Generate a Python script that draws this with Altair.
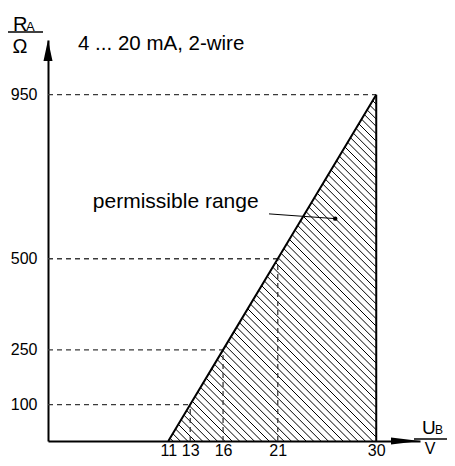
import altair as alt
import pandas as pd

# ---- data ----
ub_ticks = [11, 13, 16, 21, 30]          # U_B tick labels (V)
ra_ticks = [100, 250, 500, 950]          # R_A tick labels (Ohm)
line_ub = [11, 13, 16, 21, 30]           # load line U_B
line_ra = [0, 100, 250, 500, 950]        # load line R_A
guide_ub = [13, 16, 21]
guide_ra = [100, 250, 500]
top_ub = 30
top_ra = 950
label_pos = {"x": 4.1, "y": 640}
leader_ub = [20.2, 26.25]
leader_ra = [623, 610]

# ---- geometry of the plot ----
W, H = 372, 401
XMAX, YMAX = 34, 1100
sx, sy = W / XMAX, H / YMAX
SANS = "Liberation Sans, Arial, sans-serif"

xs = alt.Scale(domain=[0, XMAX], nice=False, zero=False)
ys = alt.Scale(domain=[0, YMAX], nice=False, zero=False)
xaxis = alt.Axis(values=ub_ticks, tickSize=0, grid=False, domainColor="black",
                 domainWidth=2, labelFont=SANS, labelFontSize=16, labelColor="black",
                 labelPadding=1, title=None, labelFlush=False, labelOverlap=False)
yaxis = alt.Axis(values=ra_ticks, tickSize=0, grid=False, domainColor="black",
                 domainWidth=2, labelFont=SANS, labelFontSize=16, labelColor="black",
                 labelPadding=11, title=None, labelOverlap=False)


def X(f):
    return alt.X(f, type="quantitative", scale=xs, axis=xaxis)


def Y(f):
    return alt.Y(f, type="quantitative", scale=ys, axis=yaxis)


# hatch segments (45 deg in screen space) clipped to the permissible triangle
ax_, bx_, by_ = line_ub[0] * sx, top_ub * sx, top_ra * sy
slope = by_ / (bx_ - ax_)
step = 7.4
rows = []
k = ax_ + step * 0.6
while k < bx_ + by_:
    x1 = (k + slope * ax_) / (1 + slope)
    y1 = slope * (x1 - ax_)
    if k <= bx_:
        x2, y2 = k, 0.0
    else:
        x2, y2 = bx_, k - bx_
    rows.append({"x": x1 / sx, "y": y1 / sy, "x2": x2 / sx, "y2": y2 / sy})
    k += step
hatch_df = pd.DataFrame(rows)

hatch = alt.Chart(hatch_df).mark_rule(color="black", strokeWidth=1).encode(
    x=X("x"), y=Y("y"), x2="x2", y2="y2")

line_df = pd.DataFrame({"ub": line_ub, "ra": line_ra})
load = alt.Chart(line_df).mark_line(color="black", strokeWidth=2).encode(
    x=X("ub"), y=Y("ra"))

right_df = pd.DataFrame({"ub": [top_ub], "ra": [top_ra], "ra0": [0]})
right = alt.Chart(right_df).mark_rule(color="black", strokeWidth=2).encode(
    x=X("ub"), y=Y("ra"), y2="ra0")

hg_df = pd.DataFrame({"x0": [0] * 4, "ub": [11 + r / 50 for r in guide_ra] + [top_ub],
                      "ra": guide_ra + [top_ra]})
hguides = alt.Chart(hg_df).mark_rule(color="#3a3a3a", strokeWidth=1.3, strokeDash=[5, 4]).encode(
    x=X("x0"), x2="ub", y=Y("ra"))

vg_df = pd.DataFrame({"ub": guide_ub, "ra": guide_ra, "y0": [0] * 3})
vguides = alt.Chart(vg_df).mark_rule(color="#3a3a3a", strokeWidth=1.3, strokeDash=[5, 4]).encode(
    x=X("ub"), y=Y("y0"), y2="ra")

yarrow = alt.Chart(pd.DataFrame({"x": [0], "y": [YMAX]})).mark_point(
    shape="M0,0L0.43,2L-0.43,2Z", size=441, filled=True, color="black", opacity=1).encode(
    x=X("x"), y=Y("y"))
xarrow = alt.Chart(pd.DataFrame({"x": [XMAX], "y": [0]})).mark_point(
    shape="M0,0L-2,-0.24L-2,0.24Z", size=841, filled=True, color="black", opacity=1).encode(
    x=X("x"), y=Y("y"))

lab_df = pd.DataFrame({"x": [label_pos["x"]], "y": [label_pos["y"]], "t": ["permissible range"]})
label = alt.Chart(lab_df).mark_text(align="left", baseline="alphabetic", font=SANS,
                                    fontSize=21, color="black").encode(
    x=X("x"), y=Y("y"), text="t:N")

lead_df = pd.DataFrame({"ub": leader_ub, "ra": leader_ra})
leader = alt.Chart(lead_df).mark_line(color="black", strokeWidth=1).encode(
    x=X("ub"), y=Y("ra"))
dot = alt.Chart(lead_df.iloc[[1]]).mark_point(filled=True, size=20, color="black", opacity=1).encode(
    x=X("ub"), y=Y("ra"))


def txt(s, x, y, size=20, font=SANS, align="left"):
    return alt.Chart(pd.DataFrame({"t": [s]})).mark_text(
        align=align, baseline="alphabetic", font=font, fontSize=size, color="black").encode(
        x=alt.value(x), y=alt.value(y), text="t:N")


def hline(x1, x2, y):
    return alt.Chart(pd.DataFrame({"a": [0]})).mark_rule(color="black", strokeWidth=1.5).encode(
        x=alt.value(x1), x2=alt.value(x2), y=alt.value(y))


title = txt("4 ... 20 mA, 2-wire", 30, 10, size=20.5)
r_lab = txt("R", -35, -9)
a_lab = txt("A", -22, -9, size=13)
ohm = txt("Ω", -28, 13, align="center")
u_lab = txt("U", 374, 394, size=19)
b_lab = txt("B", 387, 394, size=12)
v_lab = txt("V", 382, 414, size=16, align="center")

chart = alt.layer(
    hatch, hguides, vguides, load, right, yarrow, xarrow, label, leader, dot,
    title, r_lab, a_lab, hline(-40, -5, -8), ohm, u_lab, b_lab, hline(366, 399, 399), v_lab,
).properties(
    width=W, height=H,
    autosize=alt.AutoSizeParams(type="none"),
    padding={"left": 40, "top": 32, "right": 27, "bottom": 17},
).configure_view(stroke=None)

chart.save("out.html", embed_options={"renderer": "svg", "actions": False})
